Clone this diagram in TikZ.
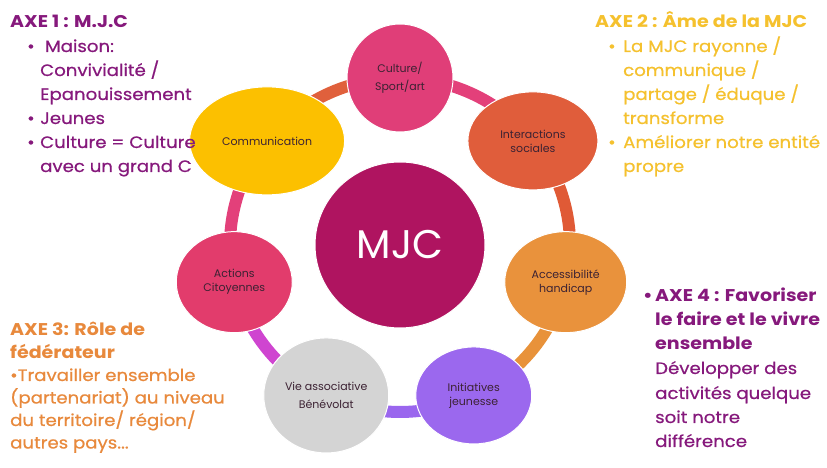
\documentclass[tikz,border=0pt]{standalone}
\usepackage{fontspec}
\setmainfont{Poppins}
\newfontfamily\semi[FakeBold=0.6, FakeStretch=1.1]{Poppins}
\newfontfamily\hdf[FakeStretch=1.12]{Poppins}
\usetikzlibrary{shapes.geometric}
\pgfdeclarelayer{paper}
\pgfdeclarelayer{background}
\pgfsetlayers{paper,background,main}
\definecolor{axA}{HTML}{86197C}
\definecolor{axB}{HTML}{F5C12E}
\definecolor{axC}{HTML}{E8893C}
\definecolor{lblc}{HTML}{3C2233}
\definecolor{cCult}{HTML}{E03E78}
\definecolor{cInter}{HTML}{E05D3B}
\definecolor{cAcc}{HTML}{E9923C}
\definecolor{cInit}{HTML}{9B68EE}
\definecolor{cVie}{HTML}{D4D4D4}
\definecolor{cAct}{HTML}{E23C6C}
\definecolor{cComm}{HTML}{FCC000}
\definecolor{cMJC}{HTML}{AF1460}
\definecolor{sA}{HTML}{E0603C}
\definecolor{sB}{HTML}{E3407A}
\definecolor{sC}{HTML}{E05A36}
\definecolor{sD}{HTML}{E8923A}
\definecolor{sE}{HTML}{9A66EE}
\definecolor{sF}{HTML}{CF45D0}
\definecolor{sG}{HTML}{E3407A}
\tikzset{
  txt/.style={anchor=base west, inner sep=0pt, font=\semi\fontsize{16.5}{20}\selectfont},
  hd/.style={anchor=base west, inner sep=0pt, font=\hdf\bfseries\fontsize{17}{20}\selectfont},
  bub/.style={ellipse, draw=white, line width=1pt, inner sep=0pt},
  lbl/.style={align=center, inner sep=0pt, text=lblc, font=\fontsize{11}{14}\selectfont},
  lblw/.style={align=center, inner sep=0pt, text=lblc, font=\fontsize{11}{18}\selectfont},
  seg/.style={line width=12pt},
}
\newcommand\bul[1]{\makebox[#1][l]{\textbullet}}
\begin{document}
\begin{tikzpicture}[x=1pt,y=1pt]
\begin{pgfonlayer}{paper}
\fill[white] (0,0) rectangle (827,468);
\end{pgfonlayer}
\useasboundingbox (0,0) rectangle (827,468);

% bubbles
\node[bub, fill=cMJC, minimum width=170pt, minimum height=166pt] (mjc) at (400,223) {};
\node[text=white, inner sep=0pt, font=\fontsize{40}{40}\selectfont] (mjct) at (mjc.center) {MJC};

\node[bub, fill=cCult, minimum width=106pt, minimum height=108pt] (cult) at ({400+170*cos(90)},{223+167*sin(90)}) {};
\node[bub, fill=cInter, minimum width=130pt, minimum height=98pt] (inter) at ({400+170*cos(38.571)},{223+167*sin(38.571)}) {};
\node[bub, fill=cAcc, minimum width=122pt, minimum height=101pt] (acc) at ({400+170*cos(-12.857)},{223+167*sin(-12.857)}) {};
\node[bub, fill=cInit, minimum width=116pt, minimum height=97pt] (init) at ({400+170*cos(-64.286)},{223+167*sin(-64.286)}) {};
\node[bub, fill=cVie, minimum width=125pt, minimum height=115pt] (vie) at ({400+170*cos(-115.714)},{223+167*sin(-115.714)}) {};
\node[bub, fill=cAct, minimum width=116pt, minimum height=101pt] (act) at ({400+170*cos(-167.143)},{223+167*sin(-167.143)}) {};
\node[bub, fill=cComm, minimum width=155pt, minimum height=108pt] (comm) at ({400+170*cos(141.429)},{223+167*sin(141.429)}) {};

\node[lblw] (cultt) at (cult.center) {Culture/\\Sport/art};
\node[lbl] (intert) at (inter.center) {Interactions\\sociales};
\node[lbl] (acct) at (acc.center) {Accessibilité\\handicap};
\node[lbl] (initt) at (init.center) {Initiatives\\jeunesse};
\node[lblw] (viet) at (vie.center) {Vie associative\\Bénévolat};
\node[lbl] (actt) at (act.center) {Actions\\Citoyennes};
\node[lbl] (commt) at (comm.center) {Communication};

% ring segments
\begin{pgfonlayer}{background}
\draw[seg, sB] (cult.center) arc[start angle=90, end angle=38.571, x radius=170, y radius=167];
\draw[seg, sC] (inter.center) arc[start angle=38.571, end angle=-12.857, x radius=170, y radius=167];
\draw[seg, sD] (acc.center) arc[start angle=-12.857, end angle=-64.286, x radius=170, y radius=167];
\draw[seg, sE] (init.center) arc[start angle=-64.286, end angle=-115.714, x radius=170, y radius=167];
\draw[seg, sF] (vie.center) arc[start angle=-115.714, end angle=-167.143, x radius=170, y radius=167];
\draw[seg, sG] (act.center) arc[start angle=-167.143, end angle=-218.571, x radius=170, y radius=167];
\draw[seg, sA] (comm.center) arc[start angle=141.429, end angle=90, x radius=170, y radius=167];
\end{pgfonlayer}

% AXE 1
\node[hd, text=axA] (a1) at (10,440) {AXE 1 : M.J.C};
\node[txt, text=axA] (a2) at (27,416) {\bul{13pt}\ Maison:};
\node[txt, text=axA] (a3) at (40,392) {Convivialité /};
\node[txt, text=axA] (a4) at (40,368) {Epanouissement};
\node[txt, text=axA] (a5) at (27,344) {\bul{13pt}Jeunes};
\node[txt, text=axA] (a6) at (27,320) {\bul{13pt}Culture = Culture};
\node[txt, text=axA] (a7) at (40,296) {avec un grand C};

% AXE 2
\node[hd, text=axB] (b1) at (595,440) {AXE 2 : Âme de la MJC};
\node[txt, text=axB] (b2) at (608,416) {\bul{15pt}La MJC rayonne /};
\node[txt, text=axB] (b3) at (623,392) {communique /};
\node[txt, text=axB] (b4) at (623,368) {partage / éduque /};
\node[txt, text=axB] (b5) at (623,344) {transforme};
\node[txt, text=axB] (b6) at (608,320) {\bul{15pt}Améliorer notre entité};
\node[txt, text=axB] (b7) at (623,296) {propre};

% AXE 3
\node[hd, text=axC] (c1) at (10,132) {AXE 3: Rôle de};
\node[hd, text=axC] (c2) at (10,109.5) {fédérateur};
\node[txt, text=axC] (c3) at (10,87) {\textbullet Travailler ensemble};
\node[txt, text=axC] (c4) at (10,64.5) {(partenariat) au niveau};
\node[txt, text=axC] (c5) at (10,42) {du territoire/ région/};
\node[txt, text=axC] (c6) at (10,19.5) {autres pays...};

% AXE 4
\node[hd, text=axA] (d1) at (643,166) {\bul{12pt}AXE 4 : Favoriser};
\node[hd, text=axA] (d2) at (655,142) {le faire et le vivre};
\node[hd, text=axA] (d3) at (655,118) {ensemble};
\node[txt, text=axA] (d4) at (655,94) {Développer des};
\node[txt, text=axA] (d5) at (655,69) {activités quelque};
\node[txt, text=axA] (d6) at (655,45) {soit notre};
\node[txt, text=axA] (d7) at (655,21) {différence};
\end{tikzpicture}
\end{document}
